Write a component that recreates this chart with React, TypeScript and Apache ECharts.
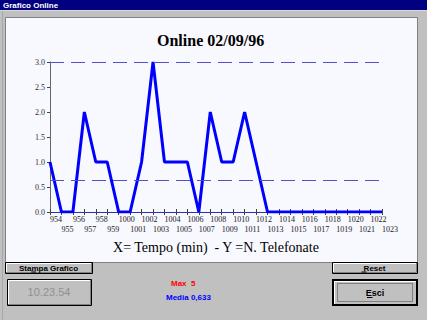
import React, { useEffect, useRef } from 'react';
import * as echarts from 'echarts';

// ---- data ----
const minutes = ['954', '955', '956', '957', '958', '959', '1000', '1001', '1002', '1003', '1004', '1005', '1006', '1007', '1008', '1009', '1010', '1011', '1012', '1013', '1014', '1015', '1016', '1017', '1018', '1019', '1020', '1021', '1022', '1023'];
const calls = [1, 0, 0, 2, 1, 1, 0, 0, 1, 3, 1, 1, 1, 0, 2, 1, 1, 2, 1, 0, 0, 0, 0, 0, 0, 0, 0, 0, 0, 0];
const maxLine = 3;
const mediaLine = 0.633;
const yMin = 0;
const yMax = 3;
const yStep = 0.5;

const windowTitle = 'Grafico Online';
const chartTitle = 'Online 02/09/96';
const axisCaption = 'X= Tempo (min)  - Y =N. Telefonate';
const timeText = '10.23.54';
const maxText = 'Max  5';
const mediaText = 'Media 0,633';
const btnPrint = 'Stampa Grafico';
const btnReset = 'Reset';
const btnExit = 'Esci';

const SERIF = '"Liberation Serif", "Times New Roman", serif';
const SANS = '"Liberation Sans", Arial, sans-serif';

function line(x1: number, y1: number, x2: number, y2: number, color: string, w = 1, z = 1): any {
  return { type: 'line', z, silent: true, shape: { x1, y1, x2, y2 }, style: { stroke: color, lineWidth: w } };
}

function raisedBox(x: number, y: number, w: number, h: number): any[] {
  return [
    { type: 'rect', z: 1, silent: true, shape: { x: x + 0.5, y: y + 0.5, width: w, height: h }, style: { fill: '#c0c0c0', stroke: '#000', lineWidth: 1 } },
    line(x + 1.5, y + 1.5, x + w - 1, y + 1.5, '#ffffff', 1, 2),
    line(x + 1.5, y + 1.5, x + 1.5, y + h - 1, '#ffffff', 1, 2),
    line(x + 1, y + h - 0.5, x + w - 0.5, y + h - 0.5, '#808080', 1, 2),
    line(x + w - 0.5, y + 1, x + w - 0.5, y + h - 0.5, '#808080', 1, 2),
  ];
}

function label(text: string, x: number, y: number, color: string, size: number, bold = true, family = SANS, align = 'center'): any {
  return {
    type: 'text', z: 5, silent: true, x, y,
    style: { text, fill: color, font: `${bold ? 'bold ' : ''}${size}px ${family}`, align, verticalAlign: 'middle' },
  };
}

export default function App() {
  const ref = useRef<HTMLDivElement>(null);
  useEffect(() => {
    if (!ref.current) return;
    const chart = echarts.init(ref.current, undefined, { renderer: 'svg' });

    const graphics: any[] = [
      // window title bar
      { type: 'rect', z: -20, silent: true, shape: { x: 0, y: 0, width: 427, height: 10 }, style: { fill: '#000080' } },
      line(0, 10.5, 427, 10.5, '#d8d8d8', 1, -19),
      label(windowTitle, 3, 5.5, '#ffffff', 8, true, SANS, 'left'),
      line(2.5, 11, 2.5, 320, '#a8a8a8', 1, -19),
      // white panel
      { type: 'rect', z: -15, silent: true, shape: { x: 5.5, y: 17.5, width: 412, height: 245 }, style: { fill: '#f8f8ff', stroke: '#808080', lineWidth: 1 } },
      // caption
      label(axisCaption, 216, 247, '#000', 14, false, SERIF, 'center'),
      // buttons
      ...raisedBox(5, 262, 87, 11),
      label(btnPrint, 48.5, 268, '#000', 8, true),
      line(31.2, 272, 36, 272, '#000', 1, 6),
      ...raisedBox(332, 262, 85, 11),
      label(btnReset, 374.5, 268, '#000', 8, true),
      line(361.5, 272, 366.5, 272, '#000', 1, 6),
      // time box
      ...raisedBox(7, 279, 84, 26),
      label(timeText, 49, 292, '#909090', 11, false),
      // stats
      label(maxText, 171, 283, '#ff0000', 8, true, SANS, 'left'),
      label(mediaText, 166, 297.5, '#0000ff', 8, true, SANS, 'left'),
      // exit button
      { type: 'rect', z: 1, silent: true, shape: { x: 332, y: 279, width: 86, height: 27 }, style: { fill: '#000' } },
      { type: 'rect', z: 2, silent: true, shape: { x: 334, y: 281, width: 82, height: 23 }, style: { fill: '#c0c0c0' } },
      line(334, 281.5, 416, 281.5, '#ffffff', 1, 3),
      line(334.5, 281, 334.5, 304, '#ffffff', 1, 3),
      { type: 'rect', z: 3, silent: true, shape: { x: 337.5, y: 283.5, width: 75, height: 18 }, style: { fill: 'none', stroke: '#404040', lineWidth: 1, lineDash: [1, 1] } },
      label(btnExit, 375, 292.5, '#000', 9, true),
      line(367, 297.5, 372.5, 297.5, '#000', 1, 6),
    ];

    chart.setOption({
      animation: false,
      backgroundColor: '#c0c0c0',
      title: {
        text: chartTitle,
        left: 152,
        top: 27,
        textStyle: { fontFamily: SERIF, fontSize: 16, fontWeight: 'bold', color: '#000' },
      },
      grid: { left: 50, top: 62, right: 45, bottom: 108, containLabel: false },
      xAxis: [
        {
          type: 'category',
          data: minutes,
          boundaryGap: false,
          position: 'bottom',
          axisLine: { show: true, lineStyle: { color: '#3030b8', width: 1 } },
          axisTick: { show: true, length: 3, interval: 0, lineStyle: { color: '#404040' } },
          axisLabel: {
            interval: 0,
            align: 'left',
            margin: 2,
            fontFamily: SERIF,
            fontSize: 8,
            lineHeight: 10,
            color: '#202020',
            formatter: (v: string, i: number) => (i % 2 === 1 ? '\n' + v : v),
          },
          splitLine: { show: false },
        },
        {
          type: 'category',
          data: minutes,
          boundaryGap: false,
          position: 'bottom',
          offset: 0,
          axisLine: { show: false },
          axisTick: { show: true, inside: true, length: 3, interval: 0, lineStyle: { color: '#404040' } },
          axisLabel: { show: false },
          splitLine: { show: false },
        },
      ],
      yAxis: {
        type: 'value',
        min: yMin,
        max: yMax,
        interval: yStep,
        axisLine: { show: true, lineStyle: { color: '#666666', width: 1 } },
        axisTick: { show: true, length: 3, lineStyle: { color: '#444444' } },
        axisLabel: {
          margin: 5,
          fontFamily: SERIF,
          fontSize: 8,
          color: '#303030',
          formatter: (v: number) => v.toFixed(1),
        },
        splitLine: { show: false },
      },
      series: [
        {
          type: 'line',
          data: calls,
          symbol: 'none',
          z: 4,
          lineStyle: { color: '#0000ff', width: 3 },
          markLine: {
            silent: true,
            symbol: ['none', 'none'],
            label: { show: false },
            lineStyle: { color: '#5050cc', width: 1, type: [14, 7] },
            data: [{ yAxis: maxLine }, { yAxis: mediaLine }],
          },
        },
      ],
      graphic: graphics,
    });
    return () => chart.dispose();
  }, []);
  return <div ref={ref} style={{ position: 'absolute', left: 0, top: 0, width: 427, height: 320 }} />;
}
